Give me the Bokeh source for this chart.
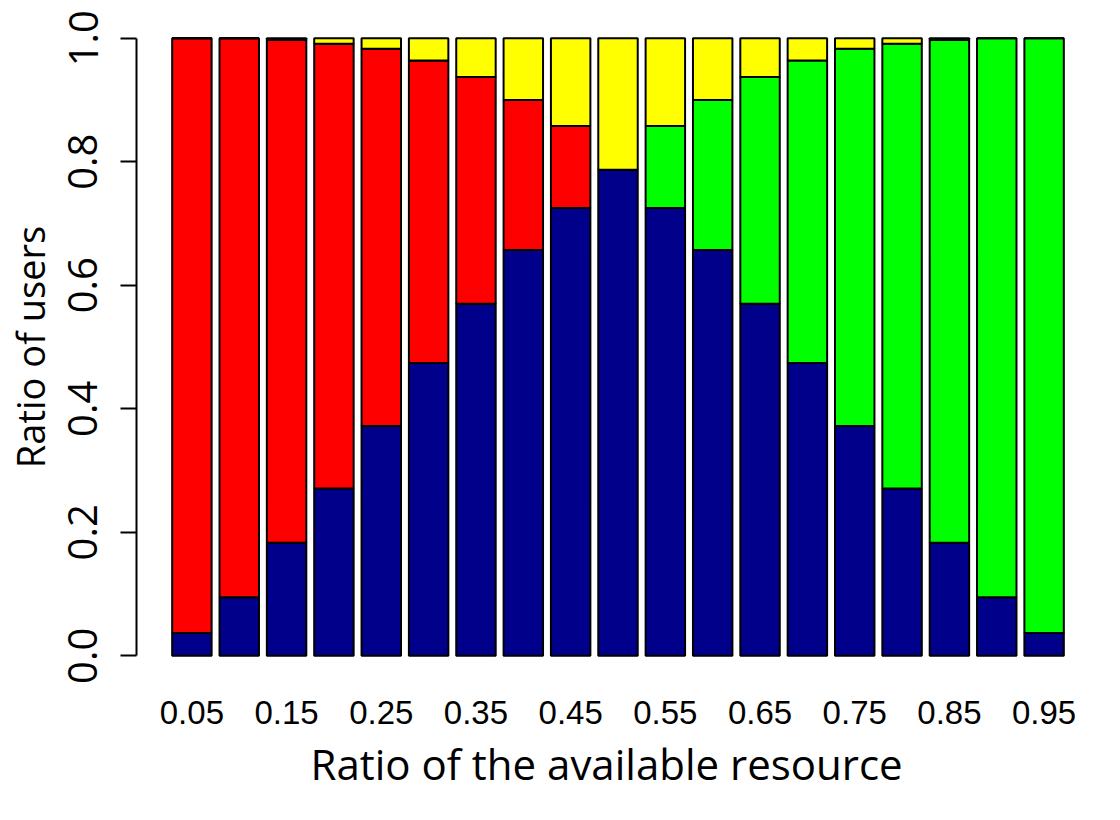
from bokeh.plotting import figure
from bokeh.models import ColumnDataSource, Range1d, FixedTicker, Title
from bokeh.embed import file_html
from bokeh.resources import INLINE

# Categories (ratio of the available resource)
categories = ["0.05", "0.10", "0.15", "0.20", "0.25", "0.30", "0.35", "0.40", "0.45", "0.50",
              "0.55", "0.60", "0.65", "0.70", "0.75", "0.80", "0.85", "0.90", "0.95"]

# Stacked series (ratio of users)
navy = [0.037, 0.095, 0.183, 0.271, 0.372, 0.474, 0.570, 0.657, 0.725, 0.787,
        0.725, 0.657, 0.570, 0.474, 0.372, 0.271, 0.183, 0.095, 0.037]
red = [0.963, 0.905, 0.814, 0.720, 0.611, 0.490, 0.367, 0.243, 0.133, 0.0,
       0.0, 0.0, 0.0, 0.0, 0.0, 0.0, 0.0, 0.0, 0.0]
green = [0.0, 0.0, 0.0, 0.0, 0.0, 0.0, 0.0, 0.0, 0.0, 0.0,
         0.133, 0.243, 0.367, 0.490, 0.611, 0.720, 0.814, 0.905, 0.963]
yellow = [0.0, 0.0, 0.003, 0.009, 0.017, 0.036, 0.063, 0.100, 0.142, 0.213,
          0.142, 0.100, 0.063, 0.036, 0.017, 0.009, 0.003, 0.0, 0.0]

y_ticks = [0.0, 0.2, 0.4, 0.6, 0.8, 1.0]
y_tick_labels = ["0.0", "0.2", "0.4", "0.6", "0.8", "1.0"]

# R barplot layout: width 1, space 0.2
space = 0.2
xs = [space + 0.5 + i * (1 + space) for i in range(len(categories))]
lo, hi = space, len(categories) * (1 + space)
pad = 0.04 * (hi - lo)

source = ColumnDataSource(dict(x=xs, navy=navy, red=red, green=green, yellow=yellow))

p = figure(width=1100, height=800, output_backend="svg", toolbar_location=None,
           x_range=Range1d(lo - pad, hi + pad), y_range=Range1d(-0.04, 1.04),
           min_border_left=123, min_border_right=1, min_border_top=13, min_border_bottom=120)

p.vbar_stack(["navy", "red", "green", "yellow"], x="x", width=1.0, source=source,
             color=["#00008B", "#FF0000", "#00FF00", "#FFFF00"],
             line_color="black", line_width=2)

p.outline_line_color = None
p.xgrid.visible = False
p.ygrid.visible = False

# y axis
p.yaxis.ticker = FixedTicker(ticks=y_ticks)
p.yaxis.major_label_overrides = {t: l for t, l in zip(y_ticks, y_tick_labels)}
p.yaxis.bounds = (0, 1)
p.yaxis.minor_tick_line_color = None
p.yaxis.major_tick_out = 16
p.yaxis.major_tick_in = 0
p.yaxis.major_tick_line_width = 2
p.yaxis.axis_line_width = 2
p.yaxis.major_label_orientation = "vertical"
p.yaxis.major_label_text_font = "Open Sans"
p.yaxis.major_label_text_font_size = "40px"
p.yaxis.major_label_text_color = "black"
p.yaxis.major_label_standoff = 23
p.yaxis.axis_label = "Ratio of users"
p.yaxis.axis_label_text_font = "Open Sans"
p.yaxis.axis_label_text_font_size = "38px"
p.yaxis.axis_label_text_font_style = "normal"
p.yaxis.axis_label_text_color = "black"
p.yaxis.axis_label_standoff = 10

# x axis: names under every other bar
shown = list(range(0, len(categories), 2))
p.xaxis.ticker = FixedTicker(ticks=[xs[i] for i in shown])
p.xaxis.major_label_overrides = {xs[i]: categories[i] for i in shown}
p.xaxis.axis_line_color = None
p.xaxis.major_tick_line_color = None
p.xaxis.minor_tick_line_color = None
p.xaxis.major_tick_out = 0
p.xaxis.major_tick_in = 0
p.xaxis.major_label_standoff = 20
p.xaxis.major_label_text_font = "Liberation Sans"
p.xaxis.major_label_text_font_size = "33px"
p.xaxis.major_label_text_color = "black"

xtitle = Title(text="Ratio of the available resource", align="left", offset=174,
               text_font="Open Sans", text_font_size="42px", text_font_style="normal",
               text_color="black", standoff=13)
p.add_layout(xtitle, "below")

open("out.html", "w").write(file_html(p, INLINE))
